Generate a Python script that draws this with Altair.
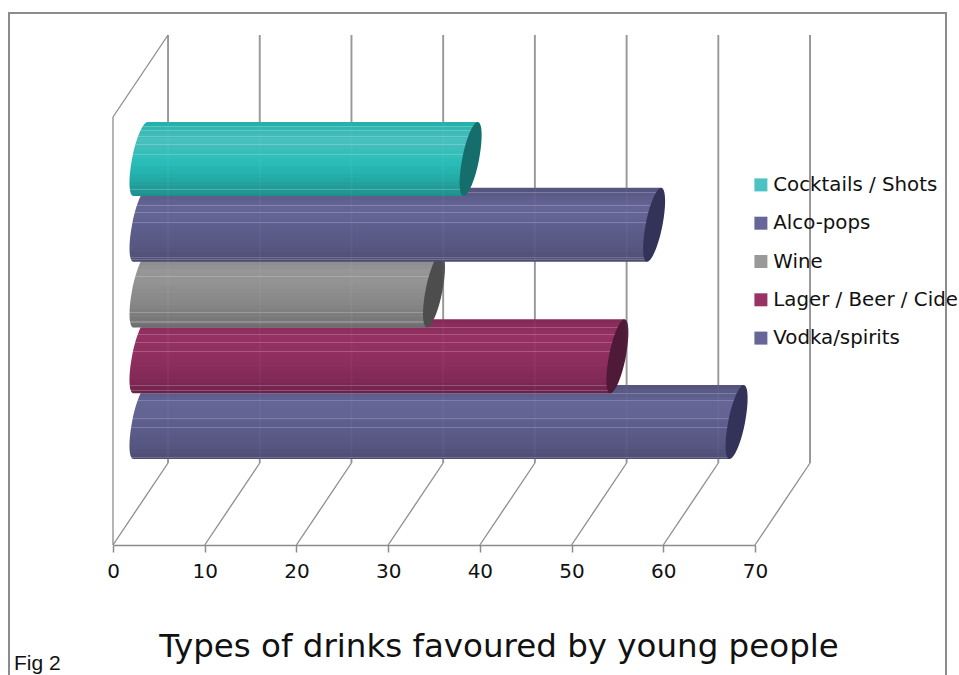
import altair as alt
import pandas as pd

# Survey results, top of the chart first
drinks = ["Cocktails / Shots", "Alco-pops", "Wine", "Lager / Beer / Cider", "Vodka/spirits"]
percent = [36, 56, 32, 52, 65]
legend_colors = ["#4CC2C2", "#666699", "#999999", "#993366", "#666699"]
cap_colors = ["#156E6C", "#33335A", "#4D4D4D", "#4E1A38", "#33335A"]

# Light-to-dark anchors running down each cylinder
shade_positions = [0, .1, .25, .4, .55, .7, .85, 1]
shades = [
    ["#1DADA8", "#36B8B4", "#4ABFBE", "#38BEBA", "#29BDB8", "#25B1AC", "#22A09C", "#1F8F8C"],
    ["#52527A", "#5C5C8A", "#646495", "#636394", "#5D5D8C", "#595986", "#55557F", "#4C4C72"],
    ["#7C7C7C", "#8B8B8B", "#969696", "#939393", "#8C8C8C", "#868686", "#7C7C7C", "#6E6E6E"],
    ["#822858", "#8C2D5D", "#953163", "#923061", "#8E2E5F", "#872C5A", "#7F2955", "#6C2349"],
    ["#52527A", "#5C5C8A", "#646495", "#636394", "#5D5D8C", "#595986", "#55557F", "#4C4C72"],
]
# Rows of the thin highlight streaks on each cylinder
streak_rows = [
    [4, 8, 14, 22, 32, 67],
    [4, 17, 24, 34, 69, 71],
    [14, 22, 59, 68],
    [8, 15, 23, 32, 66, 71],
    [8, 15, 33, 42, 72],
]
chart_title = "Types of drinks favoured by young people"
figure_label = "Fig 2"

GREY = "#8C8C8C"
TICKS = list(range(0, 80, 10))
PLOT_W, PLOT_H = 642, 510
WALL_H = 428            # height of the front edge of the chart box
DEPTH_X, DEPTH_Y = 6, 82  # how far the back wall sits behind the front, in x units / y units
BAR_H = 74
BAR_STEP = 65.75
BAR_BASE = 123          # centre of the lowest cylinder above the axis
SHEAR = 0.76            # lean of the cylinder ends, in x units
CAP_PATH_A, CAP_PATH_B = (0.229, 0.0), (0.19, -1.0)

x_scale = alt.Scale(domain=[0, 70], nice=False, zero=False)
y_scale = alt.Scale(domain=[0, PLOT_H], nice=False, zero=False)
x_axis = alt.Axis(
    values=TICKS, title=None, grid=False, format="d", domainColor=GREY, domainWidth=1.5,
    tickColor=GREY, tickWidth=1.5, tickSize=7, labelFontSize=20, labelFont="DejaVu Sans",
    labelColor="#111111", labelPadding=9, labelAngle=0, labelFlush=False, labelOverlap=False,
)


def X_(field="x"):
    return alt.X(f"{field}:Q", scale=x_scale, axis=x_axis)


def Y_(field="y"):
    return alt.Y(f"{field}:Q", scale=y_scale, axis=None)


def hex_rgb(c):
    return [int(c[i:i + 2], 16) for i in (1, 3, 5)]


def rgb_hex(v):
    return "#" + "".join(f"{int(round(a)):02x}" for a in v)


def mix(a, b, t):
    return [p + (q - p) * t for p, q in zip(a, b)]


def shade_at(anchors, t):
    pos = shade_positions
    for k in range(len(pos) - 1):
        if t <= pos[k + 1]:
            f = (t - pos[k]) / (pos[k + 1] - pos[k])
            return mix(hex_rgb(anchors[k]), hex_rgb(anchors[k + 1]), f)
    return hex_rgb(anchors[-1])


def cylinder_gradient(anchors, streaks, band_rows=4):
    """Stepped vertical gradient with pale one-pixel streaks."""
    rows = []
    for r in range(BAR_H):
        band_mid = (r // band_rows + 0.5) * band_rows / BAR_H
        col = shade_at(anchors, min(band_mid, 1))
        if r in streaks:
            col = mix(col, [255, 255, 255], 0.2)
        rows.append(rgb_hex(col))
    stops = []
    for r, col in enumerate(rows):
        if r == 0 or rows[r - 1] != col:
            stops.append(alt.GradientStop(offset=r / BAR_H, color=col))
        if r == BAR_H - 1 or rows[r + 1] != col:
            stops.append(alt.GradientStop(offset=(r + 1) / BAR_H, color=col))
    return alt.LinearGradient(gradient="linear", x1=0, y1=0, x2=0, y2=1, stops=stops)


def cap_path():
    """Sheared ellipse as Bezier curves, in symbol units."""
    k = 0.5523
    A, B = CAP_PATH_A, CAP_PATH_B
    pt = lambda a, b: f"{a * A[0] + b * B[0]:.4f},{a * A[1] + b * B[1]:.4f}"
    return (
        f"M{pt(1, 0)}C{pt(1, k)} {pt(k, 1)} {pt(0, 1)}"
        f"C{pt(-k, 1)} {pt(-1, k)} {pt(-1, 0)}"
        f"C{pt(-1, -k)} {pt(-k, -1)} {pt(0, -1)}"
        f"C{pt(k, -1)} {pt(1, -k)} {pt(1, 0)}Z"
    )


# Chart box: outer frame, walls and floor lines
frame = alt.Chart(pd.DataFrame({"k": [0]})).mark_rect(
    fill=None, stroke=GREY, strokeWidth=2
).encode(x=alt.value(-104), x2=alt.value(833), y=alt.value(-22), y2=alt.value(660))

back_grid = pd.DataFrame({"x": [t + DEPTH_X for t in TICKS]})
back_grid["y"] = DEPTH_Y
back_grid["y2"] = PLOT_H
back_lines = alt.Chart(back_grid).mark_rule(color="#949494", strokeWidth=1.9).encode(
    x=X_(), y=Y_(), y2="y2:Q"
)
# The cylinders are very slightly see-through: the wall lines show faintly on them
back_ghost = alt.Chart(back_grid[back_grid["x"] < 70]).mark_rule(
    color="#FFFFFF", strokeWidth=1.9, opacity=0.04
).encode(x=X_(), y=Y_(), y2="y2:Q")

floor = pd.DataFrame({"x": TICKS})
floor["x2"] = floor["x"] + DEPTH_X
floor["y"] = 0
floor["y2"] = DEPTH_Y
floor_lines = alt.Chart(floor).mark_rule(color=GREY, strokeWidth=1.3).encode(
    x=X_(), x2="x2:Q", y=Y_(), y2="y2:Q"
)

left_wall = pd.DataFrame({"x": [0, 0], "x2": [0, DEPTH_X], "y": [0, WALL_H], "y2": [WALL_H, PLOT_H]})
left_lines = alt.Chart(left_wall).mark_rule(color=GREY, strokeWidth=1.3).encode(
    x=X_(), x2="x2:Q", y=Y_(), y2="y2:Q"
)


def cylinder(i):
    value = percent[i]
    centre = BAR_BASE + BAR_STEP * (len(drinks) - 1 - i)
    mid_depth = DEPTH_X / 2
    half = BAR_H / 2
    fill = cylinder_gradient(shades[i], streak_rows[i])
    body_df = pd.DataFrame({
        "y": [centre + half, centre - half],
        "x": [value + mid_depth + SHEAR, value + mid_depth - SHEAR],
        "x2": [mid_depth + SHEAR, mid_depth - SHEAR],
    })
    body = alt.Chart(body_df).mark_area(
        orient="horizontal", fill=fill, line=False
    ).encode(y=Y_(), x=X_(), x2="x2:Q")
    near_df = pd.DataFrame({"x": [mid_depth], "y": [centre]})
    far_df = pd.DataFrame({"x": [value + mid_depth], "y": [centre]})
    near = alt.Chart(near_df).mark_point(
        shape=cap_path(), size=BAR_H ** 2, filled=True, fill=fill, opacity=1, strokeWidth=0
    ).encode(x=X_(), y=Y_())
    far = alt.Chart(far_df).mark_point(
        shape=cap_path(), size=BAR_H ** 2, filled=True, fill=cap_colors[i], opacity=1, strokeWidth=0
    ).encode(x=X_(), y=Y_())
    return [near, body, far]


# Lowest cylinder first so the upper ones lie over it
cylinders = []
for i in reversed(range(len(drinks))):
    cylinders += cylinder(i)

legend_keys = alt.Chart(pd.DataFrame({"drink": drinks})).mark_point(
    filled=True, size=0
).encode(
    x=alt.value(0),
    y=alt.value(0),
    color=alt.Color(
        "drink:N",
        scale=alt.Scale(domain=drinks, range=legend_colors),
        legend=alt.Legend(
            title=None, orient="none", legendX=638, legendY=140, symbolType="square",
            symbolSize=169, symbolStrokeWidth=0, symbolOpacity=1, labelFont="DejaVu Sans",
            labelFontSize=19.8, labelColor="#111111", labelLimit=400, labelOffset=2.5,
            rowPadding=17.3, padding=0,
        ),
    ),
)

fig_text = alt.Chart(pd.DataFrame({"t": [figure_label]})).mark_text(
    align="left", baseline="alphabetic", font="Liberation Sans", fontSize=21, color="#111111"
).encode(x=alt.value(-99), y=alt.value(635), text="t:N")

title_text = alt.Chart(pd.DataFrame({"t": [chart_title]})).mark_text(
    align="center", baseline="alphabetic", font="DejaVu Sans", fontSize=32.5, color="#111111"
).encode(x=alt.value(386), y=alt.value(622), text="t:N")

chart = alt.layer(
    frame, back_lines, floor_lines, left_lines, *cylinders, back_ghost, legend_keys,
    fig_text, title_text
).properties(
    width=PLOT_W,
    height=PLOT_H,
    padding={"left": 113, "top": 35, "right": 204, "bottom": 130},
    autosize=alt.AutoSizeParams(type="none"),
    background="white",
).configure_view(stroke=None)

chart.save("out.html", embed_options={"renderer": "svg", "actions": False})
